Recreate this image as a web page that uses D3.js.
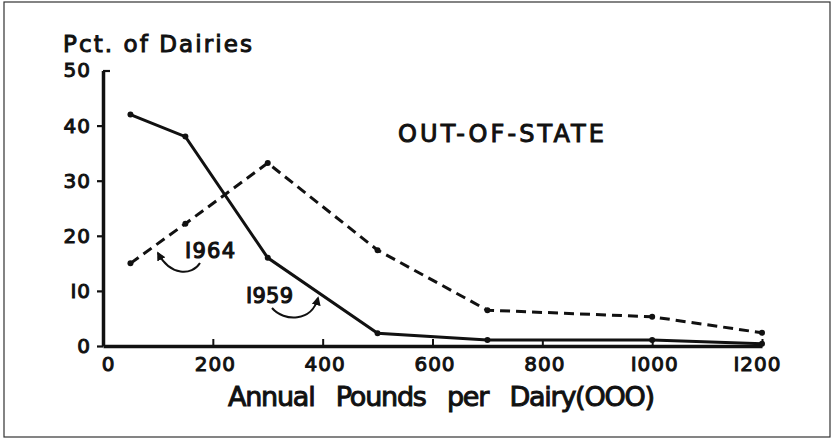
<!DOCTYPE html>
<html>
<head>
<meta charset="utf-8">
<script src="https://cdn.jsdelivr.net/npm/d3@7/dist/d3.min.js"></script>
<style>
  html, body { margin: 0; padding: 0; background: #fff; }
  svg { display: block; }
  text { font-family: "DejaVu Sans", sans-serif; fill: #111; }
</style>
</head>
<body>
<script>
// ---- data ----
const xValues = [50, 150, 300, 500, 700, 1000, 1200];
const pct1959 = [42, 38, 16, 2.3, 1.1, 1.1, 0.4];
const pct1964 = [15, 22.2, 33.2, 17.4, 6.5, 5.3, 2.4];
const xTicks = [0, 200, 400, 600, 800, 1000, 1200];
const yTicks = [0, 10, 20, 30, 40, 50];
const yTickLabels = ["0", "I0", "20", "30", "40", "50"];
const xTickLabels = ["0", "200", "400", "600", "800", "I000", "I200"];

const W = 836, H = 439;
const svg = d3.select("body").append("svg").attr("width", W).attr("height", H);

// frame
svg.append("rect").attr("x", 4).attr("y", 2).attr("width", 826).attr("height", 435)
  .attr("fill", "none").attr("stroke", "#333").attr("stroke-width", 1.2);

const x = d3.scaleLinear().domain([0, 1200]).range([103, 762]);
const y = d3.scaleLinear().domain([0, 50]).range([346, 70.5]);

const ink = "#111";
const sw = 1.0; // text stroke to thicken lettering

// y axis
const yAxis = d3.axisLeft(y).tickValues(yTicks)
  .tickFormat((d, i) => yTickLabels[i]).tickSize(6).tickSizeOuter(0).tickPadding(6);
const gy = svg.append("g").attr("transform", `translate(${x(0)},0)`).call(yAxis);
gy.select(".domain").attr("stroke", ink).attr("stroke-width", 3.5);
gy.selectAll(".tick line").attr("stroke", ink).attr("stroke-width", 2.2);
gy.selectAll(".tick text").attr("font-size", 20).attr("fill", ink)
  .attr("stroke", ink).attr("stroke-width", sw).attr("font-family", "DejaVu Sans")
  .attr("letter-spacing", 1);
gy.selectAll(".tick").filter(d => d === 50).select("line").attr("x2", 7);

// x axis
const xAxis = d3.axisBottom(x).tickValues(xTicks)
  .tickFormat((d, i) => xTickLabels[i]).tickSizeInner(-7).tickSizeOuter(0).tickPadding(11);
const gx = svg.append("g").attr("transform", `translate(0,${y(0)})`).call(xAxis);
gx.select(".domain").attr("stroke", ink).attr("stroke-width", 3.5);
gx.selectAll(".tick line").attr("stroke", ink).attr("stroke-width", 2)
  .attr("display", d => d === 0 ? "none" : null);
gx.selectAll(".tick text").attr("font-size", 20).attr("fill", ink)
  .attr("stroke", ink).attr("stroke-width", sw).attr("font-family", "DejaVu Sans")
  .attr("letter-spacing", 1)
  .attr("dx", d => d === 0 ? 5 : (d === 1200 ? -5 : 2));

// lines
const line = d3.line().x(d => x(d[0])).y(d => y(d[1]));
const s1959 = xValues.map((v, i) => [v, pct1959[i]]);
const s1964 = xValues.map((v, i) => [v, pct1964[i]]);

svg.append("path").datum(s1964).attr("d", line).attr("fill", "none")
  .attr("stroke", ink).attr("stroke-width", 3).attr("stroke-dasharray", "10,6");
svg.append("path").datum(s1959).attr("d", line).attr("fill", "none")
  .attr("stroke", ink).attr("stroke-width", 3);

[s1959, s1964].forEach(s => {
  svg.append("g").selectAll("circle").data(s).join("circle")
    .attr("cx", d => x(d[0])).attr("cy", d => y(d[1])).attr("r", 3).attr("fill", ink);
});

// titles
svg.append("text").attr("x", 63).attr("y", 52).attr("font-size", 23)
  .attr("textLength", 189).attr("lengthAdjust", "spacing")
  .attr("stroke", ink).attr("stroke-width", sw).text("Pct. of Dairies");

svg.append("text").attr("x", 228).attr("y", 406).attr("font-size", 27)
  .attr("textLength", 427).attr("lengthAdjust", "spacing").attr("word-spacing", 14)
  .attr("stroke", ink).attr("stroke-width", sw).text("Annual Pounds per Dairy(OOO)");

svg.append("text").attr("x", 398).attr("y", 142).attr("font-size", 24)
  .attr("textLength", 206).attr("lengthAdjust", "spacing")
  .attr("stroke", ink).attr("stroke-width", sw).text("OUT-OF-STATE");

// series labels
svg.append("text").attr("x", 185).attr("y", 258).attr("font-size", 21)
  .attr("textLength", 50).attr("lengthAdjust", "spacing")
  .attr("stroke", ink).attr("stroke-width", 1.1).text("I964");
svg.append("text").attr("x", 246).attr("y", 303).attr("font-size", 21)
  .attr("textLength", 47).attr("lengthAdjust", "spacing")
  .attr("stroke", ink).attr("stroke-width", 1.1).text("I959");

// arrows
const defs = svg.append("defs");
defs.append("marker").attr("id", "ah").attr("viewBox", "0 0 10 10")
  .attr("refX", 8).attr("refY", 5).attr("markerWidth", 4.5).attr("markerHeight", 4.5)
  .attr("orient", "auto").attr("markerUnits", "strokeWidth")
  .append("path").attr("d", "M0,0 L10,5 L0,10 Z").attr("fill", ink);

svg.append("path").attr("d", "M200,263 C192,276 170,276 158,253")
  .attr("fill", "none").attr("stroke", ink).attr("stroke-width", 2)
  .attr("marker-end", "url(#ah)");
svg.append("path").attr("d", "M272,308 C284,322 312,322 318,298")
  .attr("fill", "none").attr("stroke", ink).attr("stroke-width", 2)
  .attr("marker-end", "url(#ah)");
</script>
</body>
</html>
